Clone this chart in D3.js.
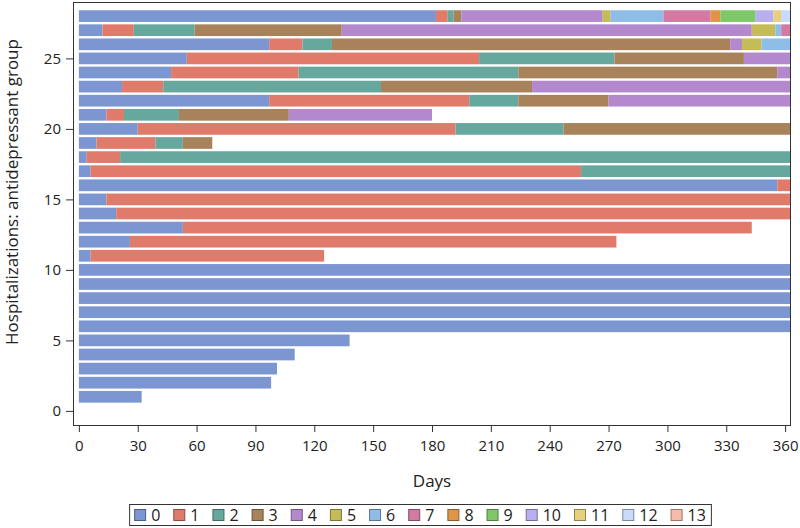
<!DOCTYPE html>
<html><head><meta charset="utf-8">
<script src="https://cdn.jsdelivr.net/npm/d3@7"></script>
<style>
body{margin:0;background:#fff}
svg{display:block}
text{font-family:"Open Sans",sans-serif;fill:#222}
</style>
</head><body>
<svg id="c" width="800" height="528"></svg>
<script>
// ---- data ----
const subjects = [1,2,3,4,5,6,7,8,9,10,11,12,13,14,15,16,17,18,19,20,21,22,23,24,25,26,27,28];
const endDays = [32,98,101,110,138,365,365,365,365,365,125,274,343,365,365,365,365,365,68,365,180,365,365,365,365,365,365,365];
const hospDays = [
  [],[],[],[],[],[],[],[],[],[],
  [6],[26],[53],[19],[14],[356],
  [6,256],[4,21],[9,39,53],[30,192,247],[14,23,51,107],
  [97,199,224,270],[22,43,154,231],[47,112,224,356],[55,204,273,339],
  [97,114,129,332,338,348],
  [12,28,59,134,343,355,358],
  [182,188,191,195,267,271,298,322,327,345,354,358]
];
const stateLabels = ['0','1','2','3','4','5','6','7','8','9','10','11','12','13'];
const stateColors = ['#7b96d0','#e07b6c','#67a89e','#a8825a','#b388cc','#c5bb57','#8ebde8','#d27aa2','#de9545','#7fc86a','#b8aef0','#e6d07c','#c6dcfa','#f7bba7'];
const xTicks = [0,30,60,90,120,150,180,210,240,270,300,330,360];
const yTicks = [0,5,10,15,20,25];

// ---- layout ----
const svg = d3.select('#c');
const L = 73, R = 791, T = 2, B = 425;
const x = d3.scaleLinear().domain([-3,363]).range([L,R]);
const y = d3.scaleLinear().domain([-1,29]).range([B,T]);
const color = d3.scaleOrdinal().domain(stateLabels).range(stateColors);

svg.append('defs').append('clipPath').attr('id','pc')
  .append('rect').attr('x',L).attr('y',T).attr('width',R-L).attr('height',B-T);

// segments
const segs = [];
subjects.forEach((s,i)=>{
  const b = [0, ...hospDays[i], endDays[i]];
  for(let k=0;k<b.length-1;k++) segs.push({s, start:b[k], end:b[k+1], state:stateLabels[k]});
});
const half = (y(0)-y(0.83))/2;
svg.append('g').attr('clip-path','url(#pc)')
  .selectAll('rect').data(segs).join('rect')
  .attr('x',d=>x(d.start))
  .attr('width',d=>x(d.end)-x(d.start))
  .attr('y',d=>y(d.s)-half)
  .attr('height',half*2)
  .attr('fill',d=>color(d.state));

// axes
const ax = svg.append('g').attr('transform',`translate(0,${B})`)
  .call(d3.axisBottom(x).tickValues(xTicks).tickSize(7).tickPadding(8));
const ay = svg.append('g').attr('transform',`translate(${L},0)`)
  .call(d3.axisLeft(y).tickValues(yTicks).tickSize(7).tickPadding(5));
[ax,ay].forEach(g=>{
  g.select('.domain').remove();
  g.selectAll('line').attr('stroke','#333');
  g.selectAll('text').style('font-size','15px').attr('fill','#222').style('font-family','"Open Sans",sans-serif');
});

svg.append('rect').attr('x',L+0.5).attr('y',T+0.5).attr('width',R-L-1).attr('height',B-T)
  .attr('fill','none').attr('stroke','#333');

// titles
svg.append('text').attr('x',(L+R)/2).attr('y',487).attr('text-anchor','middle')
  .style('font-size','17px').text('Days');
svg.append('text').attr('transform','translate(18,192) rotate(-90)').attr('text-anchor','middle')
  .style('font-size','17px').text('Hospitalizations: antidepressant group');

// legend
const lg = svg.append('g');
let cx = 0;
stateLabels.forEach((lab,i)=>{
  const g = lg.append('g');
  g.append('rect').attr('x',cx+0.5).attr('y',-5.5).attr('width',11).attr('height',11)
    .attr('fill',stateColors[i]).attr('stroke',d3.color(stateColors[i]).darker(1.3));
  const t = g.append('text').attr('x',cx+17).attr('y',0).attr('dy','0.35em')
    .style('font-size','16px').text(lab);
  cx += 17 + t.node().getComputedTextLength() + 13;
});
const lw = cx - 13 + 10;
const lx = (L+R)/2 - lw/2 - 12;
lg.attr('transform',`translate(${lx+5},515)`);
svg.append('rect').attr('x',lx+0.5).attr('y',504.5).attr('width',lw).attr('height',21)
  .attr('fill','none').attr('stroke','#333');
</script>
</body></html>
